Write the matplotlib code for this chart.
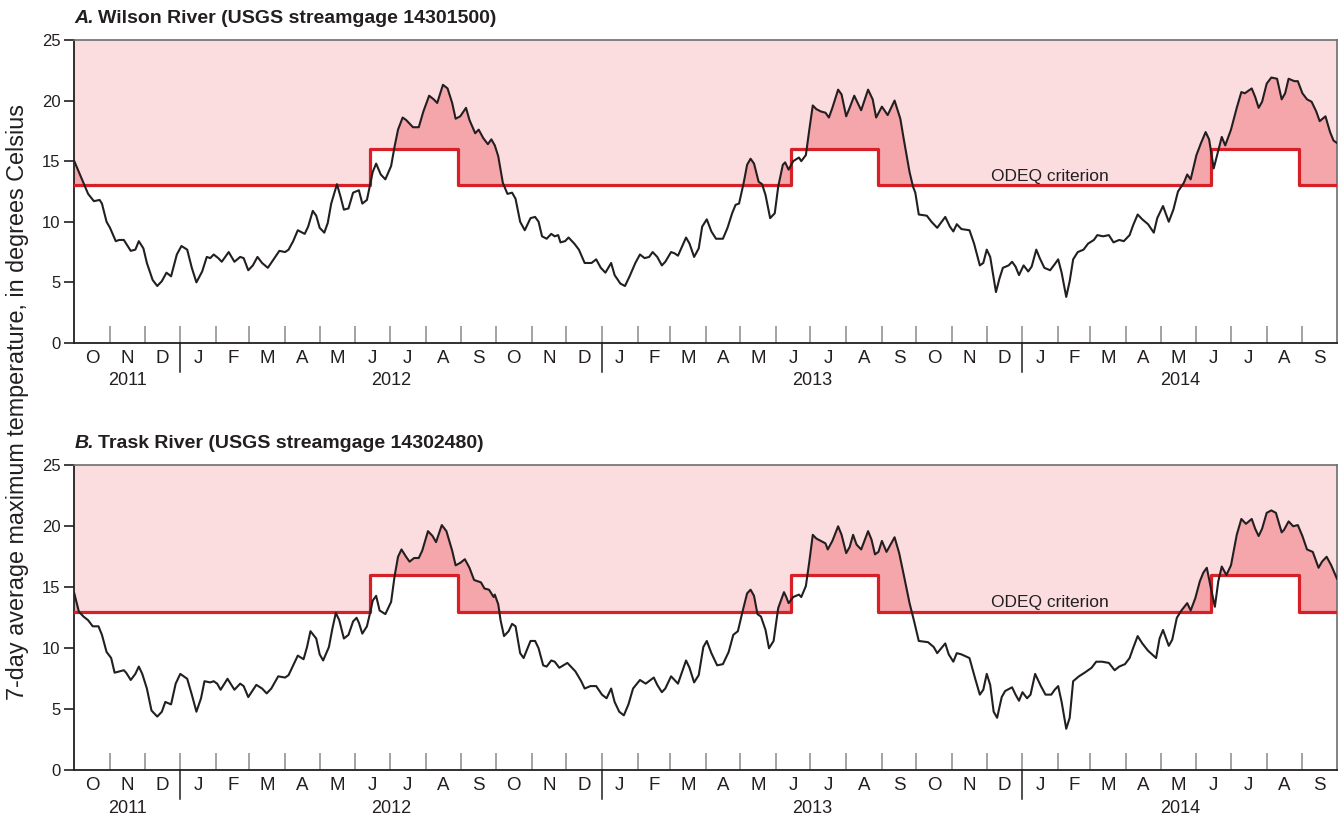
import numpy as np
import matplotlib.pyplot as plt
from matplotlib.transforms import blended_transform_factory

# Record runs Oct 1, 2011 through Sep 30, 2014; x values are days since START
START = np.datetime64('2011-10-01')
END_DAY = 1096

# Wilson River, 7-day average maximum temperature (deg C)
wilson_day = [0, 8, 12, 17, 22, 24, 28, 31, 36, 39, 43, 45, 49, 53, 56, 60, 63, 68, 72, 76,
              80, 84, 89, 93, 98, 102, 106, 111, 115, 118, 121, 125, 128, 134, 139, 144, 147, 151, 155, 159,
              163, 168, 173, 178, 183, 186, 190, 194, 200, 203, 207, 210, 213, 217, 220, 223, 228, 231, 234, 238,
              242, 247, 250, 254, 257, 259, 262, 266, 270, 275, 278, 281, 285, 288, 294, 299, 303, 308, 312, 315,
              320, 324, 328, 331, 335, 340, 343, 348, 351, 355, 359, 362,
              365, 368, 372, 376, 380, 383, 387, 391, 396, 400, 403, 406, 410, 414, 417, 420, 422, 426, 429, 434,
              438, 443, 449, 453, 457, 461, 466, 469, 474, 478, 482, 487, 491, 495, 499, 502, 506, 510, 513, 518,
              521, 524, 531, 534, 538, 542, 545, 549, 553, 557, 563, 567, 571, 574, 577, 581, 584, 587, 590, 594,
              597, 600, 604, 608, 611, 615, 617, 620, 624, 629, 631, 635, 638, 641, 644, 648, 652, 655, 658, 663,
              666, 670, 673, 677, 680, 683, 689, 693, 696, 701, 706, 712, 717, 720, 725, 728,
              730, 733, 740, 744, 749, 756, 760, 763, 766, 770, 777, 781, 786, 789, 792, 795, 800, 803, 806, 811,
              814, 817, 820, 824, 828, 831, 835, 838, 842, 847, 851, 854, 857, 861, 864, 867, 871, 876, 880, 885,
              888, 893, 898, 902, 907, 911, 916, 919, 923, 927, 932, 937, 940, 945, 950, 954, 958, 963, 966, 969,
              974, 978, 982, 985, 989, 992, 996, 999, 1004, 1009, 1013, 1016, 1022, 1025, 1028, 1031, 1035, 1039,
              1044, 1048, 1051, 1054, 1059, 1062, 1066, 1070, 1074, 1078, 1081, 1086, 1090, 1093, 1096]
wilson_temp = [15.0, 13.2, 12.3, 11.7, 11.8, 11.5, 10.0, 9.5, 8.4, 8.5, 8.5, 8.2, 7.6, 7.7, 8.4, 7.8, 6.6, 5.2, 4.7, 5.1,
               5.8, 5.5, 7.3, 8.0, 7.7, 6.2, 5.0, 5.9, 7.1, 7.0, 7.3, 7.0, 6.7, 7.5, 6.7, 7.1, 7.0, 6.0, 6.4, 7.1,
               6.6, 6.2, 6.9, 7.6, 7.5, 7.7, 8.4, 9.3, 9.0, 9.6, 10.9, 10.5, 9.5, 9.1, 9.9, 11.5, 13.1, 12.1, 11.0, 11.1,
               12.4, 12.6, 11.5, 11.8, 13.2, 14.1, 14.8, 13.9, 13.5, 14.6, 16.2, 17.6, 18.6, 18.4, 17.8, 17.8, 19.1, 20.4, 20.1, 19.8,
               21.3, 21.0, 19.8, 18.5, 18.7, 19.4, 18.4, 17.3, 17.6, 16.9, 16.4, 16.8,
               16.3, 15.4, 13.2, 12.3, 12.4, 11.9, 10.0, 9.3, 10.3, 10.4, 10.0, 8.8, 8.6, 9.0, 8.8, 8.9, 8.3, 8.4, 8.7, 8.2,
               7.7, 6.6, 6.6, 6.9, 6.2, 5.8, 6.6, 5.6, 4.9, 4.7, 5.5, 6.6, 7.3, 7.0, 7.1, 7.5, 7.1, 6.4, 6.7, 7.5,
               7.4, 7.2, 8.7, 8.2, 7.1, 7.8, 9.6, 10.2, 9.2, 8.6, 8.6, 9.5, 10.7, 11.4, 11.5, 13.2, 14.7, 15.2, 14.8, 13.3,
               13.1, 12.2, 10.3, 10.7, 12.9, 14.7, 14.9, 14.3, 15.0, 15.3, 15.0, 15.5, 17.6, 19.6, 19.3, 19.1, 19.0, 18.6, 19.4, 20.9,
               20.5, 18.7, 19.4, 20.4, 19.8, 19.2, 20.9, 20.1, 18.6, 19.5, 18.8, 20.0, 18.5, 16.8, 14.1, 12.9,
               12.4, 10.6, 10.5, 10.0, 9.5, 10.4, 9.6, 9.2, 9.8, 9.4, 9.3, 8.2, 6.4, 6.6, 7.7, 7.1, 4.2, 5.3, 6.2, 6.4,
               6.7, 6.3, 5.6, 6.4, 5.9, 6.3, 7.7, 7.0, 6.2, 6.0, 6.5, 6.9, 5.8, 3.8, 5.1, 6.9, 7.5, 7.7, 8.2, 8.5,
               8.9, 8.8, 8.9, 8.3, 8.5, 8.4, 8.9, 9.7, 10.6, 10.2, 9.8, 9.1, 10.3, 11.3, 10.0, 11.0, 12.5, 13.2, 13.9, 13.5,
               15.5, 16.5, 17.4, 16.8, 14.4, 15.5, 17.0, 16.3, 17.6, 19.4, 20.7, 20.6, 21.0, 20.3, 19.4, 19.9, 21.4, 21.9,
               21.8, 20.1, 20.6, 21.8, 21.6, 21.6, 20.6, 20.1, 19.9, 19.1, 18.3, 18.7, 17.4, 16.7, 16.5]

# Trask River, 7-day average maximum temperature (deg C)
trask_day = [0, 4, 8, 12, 16, 21, 24, 28, 32, 35, 39, 43, 45, 49, 53, 56, 59, 63, 67, 72,
             76, 79, 84, 88, 92, 98, 102, 106, 110, 113, 118, 121, 124, 127, 133, 139, 144, 147, 151, 158,
             163, 167, 171, 177, 183, 186, 190, 194, 199, 202, 205, 210, 213, 216, 221, 224, 227, 230, 234, 238,
             242, 245, 247, 250, 254, 257, 259, 262, 265, 270, 275, 278, 281, 284, 288, 291, 295, 299, 302, 307,
             311, 314, 319, 323, 328, 331, 335, 339, 343, 347, 353, 356, 360, 364,
             365, 368, 370, 373, 377, 380, 383, 387, 390, 396, 400, 403, 407, 410, 414, 417, 421, 428, 435, 440,
             443, 448, 453, 458, 462, 466, 469, 473, 477, 481, 485, 491, 496, 503, 506, 510, 513, 518, 524, 531,
             534, 538, 542, 546, 549, 553, 558, 563, 568, 572, 576, 580, 584, 587, 590, 593, 596, 600, 603, 607,
             611, 616, 618, 620, 624, 629, 631, 635, 638, 641, 644, 648, 652, 654, 658, 663, 666, 670, 673, 676,
             679, 683, 689, 692, 695, 698, 701, 705, 712, 716, 720, 725, 729,
             733, 741, 746, 749, 756, 759, 763, 766, 770, 777, 782, 786, 789, 792, 795, 798, 801, 805, 808, 814,
             817, 820, 823, 827, 830, 834, 839, 843, 848, 851, 854, 857, 861, 864, 867, 872, 877, 883, 887, 892,
             898, 903, 907, 912, 916, 919, 923, 927, 932, 939, 942, 945, 950, 953, 957, 961, 966, 969, 973, 977,
             980, 983, 986, 990, 993, 996, 1000, 1004, 1009, 1013, 1017, 1022, 1025, 1028, 1031, 1035, 1039, 1043,
             1048, 1050, 1054, 1058, 1062, 1066, 1070, 1075, 1080, 1083, 1087, 1091, 1096]
trask_temp = [14.5, 13.0, 12.6, 12.3, 11.8, 11.8, 11.1, 9.7, 9.2, 8.0, 8.1, 8.2, 8.0, 7.4, 7.9, 8.5, 7.9, 6.7, 4.9, 4.4,
              4.8, 5.6, 5.4, 7.1, 7.9, 7.5, 6.2, 4.8, 5.9, 7.3, 7.2, 7.3, 7.1, 6.6, 7.5, 6.6, 7.1, 6.9, 6.0, 7.0,
              6.7, 6.3, 6.7, 7.7, 7.6, 7.8, 8.6, 9.4, 9.1, 10.1, 11.4, 10.8, 9.5, 9.0, 10.1, 11.6, 12.9, 12.3, 10.8, 11.1,
              12.2, 12.5, 12.1, 11.2, 11.8, 13.0, 13.9, 14.3, 13.1, 12.8, 13.8, 15.9, 17.5, 18.1, 17.5, 17.1, 17.4, 17.4, 18.0, 19.6,
              19.2, 18.7, 20.1, 19.6, 18.0, 16.8, 17.0, 17.3, 16.6, 15.6, 15.4, 14.9, 14.8, 14.2,
              14.4, 13.6, 12.3, 11.0, 11.4, 12.0, 11.8, 9.6, 9.2, 10.6, 10.6, 10.0, 8.6, 8.5, 9.0, 8.9, 8.4, 8.8, 8.1, 7.3,
              6.7, 6.9, 6.9, 6.2, 5.9, 6.7, 5.6, 4.8, 4.5, 5.4, 6.7, 7.4, 7.1, 7.6, 7.0, 6.4, 6.7, 7.7, 7.1, 9.0,
              8.4, 7.2, 7.8, 10.1, 10.6, 9.6, 8.6, 8.7, 9.7, 11.1, 11.4, 13.0, 14.5, 14.8, 14.3, 12.8, 12.6, 11.5, 10.0, 10.6,
              13.3, 14.6, 14.2, 13.7, 14.2, 14.4, 14.2, 15.1, 17.1, 19.3, 19.0, 18.8, 18.6, 18.1, 18.8, 20.0, 19.3, 17.8, 18.3, 19.3,
              18.5, 18.1, 19.6, 18.9, 17.7, 17.9, 18.8, 17.9, 19.1, 17.8, 16.0, 13.7, 12.2,
              10.6, 10.5, 10.1, 9.6, 10.4, 9.5, 8.9, 9.6, 9.5, 9.2, 7.5, 6.2, 6.6, 7.9, 7.0, 4.8, 4.3, 6.0, 6.5, 6.8,
              6.2, 5.7, 6.4, 5.9, 6.2, 7.9, 6.9, 6.2, 6.2, 6.6, 6.9, 5.6, 3.4, 4.3, 7.3, 7.7, 8.0, 8.4, 8.9, 8.9,
              8.8, 8.2, 8.5, 8.7, 9.2, 10.0, 11.0, 10.4, 9.8, 9.2, 10.8, 11.5, 10.2, 10.7, 12.5, 13.1, 13.7, 13.1, 14.1, 15.5,
              16.2, 16.6, 15.2, 13.4, 15.5, 16.7, 16.0, 16.8, 19.3, 20.6, 20.2, 20.6, 19.8, 19.2, 19.8, 21.1, 21.3, 21.1,
              19.5, 19.7, 20.4, 20.0, 20.1, 19.2, 18.1, 17.9, 16.6, 17.1, 17.5, 16.8, 15.7]

# ODEQ temperature criterion (deg C), a step function starting on these days
crit_day = [0, 257, 333, 622, 698, 987, 1063, END_DAY]
crit_value = [13, 16, 13, 16, 13, 16, 13, 13]

month_letters = list('ONDJFMAMJJAS') * 3
panel_letters = ['A.', 'B.']
panel_names = ['Wilson River (USGS streamgage 14301500)',
               'Trask River (USGS streamgage 14302480)']

LIGHT = '#fbdde0'
DARK = '#f5a6ab'
RED = '#d71f27'
INK = '#231f20'
FRAME = '#6d6e70'

plt.rcParams['font.family'] = ['Liberation Sans', 'DejaVu Sans']

months = np.arange('2011-10', '2014-11', dtype='datetime64[M]')
month_day = (months.astype('datetime64[D]') - START).astype(int)
is_jan = (months.astype(int) % 12) == 0


def draw_panel(ax, day, temp, letter, name):
    # everything above the criterion is shaded light pink
    above = ax.fill_between(crit_day, crit_value, 25, step='post', color=LIGHT, lw=0, zorder=1)
    # exceedance: area under the temperature curve, clipped to the region above the criterion
    exceed = ax.fill_between(day, temp, 0, color=DARK, lw=0, zorder=2)
    exceed.set_clip_path(above.get_paths()[0], ax.transData)
    ax.step(crit_day, crit_value, where='post', color=RED, lw=2.3, zorder=3)
    ax.plot(day, temp, color=INK, lw=1.5, zorder=4)

    ax.text(847, 13.4, 'ODEQ criterion', ha='center', va='baseline', fontsize=12.5, color=INK, zorder=5)

    ax.set_xlim(0, END_DAY)
    ax.set_ylim(0, 25)
    ax.set_yticks(range(0, 26, 5))
    ax.tick_params(axis='y', direction='out', length=7, width=1.2, labelsize=12, pad=3, colors=INK)

    # month ticks inside, letters centred in each month
    ax.set_xticks(month_day[1:-1])
    ax.set_xticklabels([])
    ax.set_xticks((month_day[:-1] + month_day[1:]) / 2, minor=True)
    ax.set_xticklabels(month_letters, minor=True)
    ax.tick_params(axis='x', which='major', direction='in', length=12, width=1.1, color='#8a8a8a')
    ax.tick_params(axis='x', which='minor', length=0, pad=5, labelsize=13.5, labelcolor=INK)
    for tick, jan in zip(ax.xaxis.get_major_ticks(), is_jan[1:-1]):
        if jan:
            tick.tick1line.set_color(INK)

    # year separators below the axis and year labels
    trans = blended_transform_factory(ax.transData, ax.transAxes)
    jan_days = month_day[is_jan]
    for d in jan_days:
        ax.plot([d, d], [0, -0.095], transform=trans, color=INK, lw=1.1, clip_on=False)
    edges = np.concatenate([[0], jan_days, [END_DAY]])
    for i, year in enumerate(['2011', '2012', '2013', '2014']):
        ax.text((edges[i] + edges[i + 1]) / 2, -0.125, year, transform=trans,
                ha='center', va='center', fontsize=13, color=INK)

    for side in ['left', 'bottom']:
        ax.spines[side].set_color(INK)
        ax.spines[side].set_linewidth(1.3)
    for side in ['top', 'right']:
        ax.spines[side].set_color(FRAME)
        ax.spines[side].set_linewidth(1.2)

    t1 = ax.text(0, 1.042, letter, transform=ax.transAxes, fontsize=14,
                 fontweight='bold', fontstyle='italic', va='bottom', color=INK)
    ax.annotate(name, xy=(1, 0), xycoords=t1, xytext=(3, 0), textcoords='offset points',
                fontsize=14, fontweight='bold', va='bottom', color=INK)


fig = plt.figure(figsize=(13.41, 8.17), dpi=100)
ax_top = fig.add_axes([0.0554, 0.5802, 0.9416, 0.3709])
ax_bot = fig.add_axes([0.0554, 0.0572, 0.9416, 0.3733])

draw_panel(ax_top, wilson_day, wilson_temp, panel_letters[0], panel_names[0])
draw_panel(ax_bot, trask_day, trask_temp, panel_letters[1], panel_names[1])

fig.text(0.013, 0.508, '7-day average maximum temperature, in degrees Celsius',
         rotation=90, ha='center', va='center', fontsize=16.8, color=INK)

fig.savefig('out.png', dpi=100)
